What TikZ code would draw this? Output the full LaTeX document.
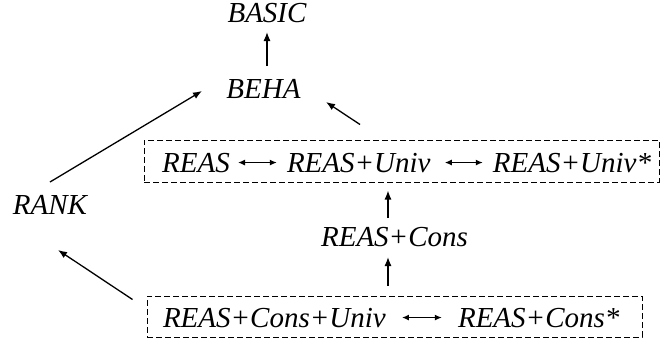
\documentclass[tikz,border=0pt]{standalone}
\usepackage{fontspec}
\setmainfont{Liberation Serif}
\usetikzlibrary{arrows.meta}
\begin{document}
\begin{tikzpicture}[x=1pt,y=-1pt,
  lbl/.style={inner sep=0pt, anchor=base, font=\fontsize{29}{31}\selectfont\itshape},
  arr/.style={-{Latex[length=9pt,width=7pt]}, line width=1.3pt},
  dbl/.style={{Latex[length=7pt,width=6pt]}-{Latex[length=7pt,width=6pt]}, line width=1.2pt},
  grp/.style={draw, line width=1pt, dash pattern=on 6pt off 3pt, rectangle, inner sep=0pt}]
\useasboundingbox (0,0) rectangle (661,343);
\node[lbl] (basic) at (267,22) {BASIC};
\node[lbl] (beha) at (263.5,98) {BEHA};
\node[lbl] (rank) at (50,214) {RANK};
\node[grp, minimum width=515pt, minimum height=42pt] (box1) at (401.5,161) {};
\node[lbl] (reas) at (196,172) {REAS};
\node[lbl] (reasu) at (358.8,172) {REAS+Univ};
\node[lbl] (reasus) at (572,172) {REAS+Univ*};
\node[lbl] (reasc) at (394.5,246) {REAS+Cons};
\node[grp, minimum width=495pt, minimum height=41pt] (box2) at (394.5,316.5) {};
\node[lbl] (rcu) at (274.4,327) {REAS+Cons+Univ};
\node[lbl] (rcs) at (538.7,327) {REAS+Cons*};
% connectors
\draw[arr] ([shift={(3.5,-32)}]beha.base) -- ([shift={(0,10)}]basic.base);
\draw[arr] ([shift={(0,-32)}]rank.base) -- ([shift={(-61.5,-7)}]beha.base);
\draw[arr] ([shift={(-41.5,-15)}]box1.north) -- ([shift={(62.5,4)}]beha.base);
\draw[arr] ([shift={(-6.5,-28)}]reasc.base) -- ([shift={(-13.5,8)}]box1.south);
\draw[arr] ([shift={(-6.5,-10)}]box2.north) -- ([shift={(-6.5,11)}]reasc.base);
\draw[arr] ([shift={(-14,4)}]box2.north west) -- ([shift={(8,36)}]rank.base);
\draw[dbl, shorten <=8pt, shorten >=10pt] (reas.east) -- (reasu.west);
\draw[dbl, shorten <=14pt, shorten >=10pt] (reasu.east) -- (reasus.west);
\draw[dbl, shorten <=16pt, shorten >=16pt] (rcu.east) -- (rcs.west);
\end{tikzpicture}
\end{document}
